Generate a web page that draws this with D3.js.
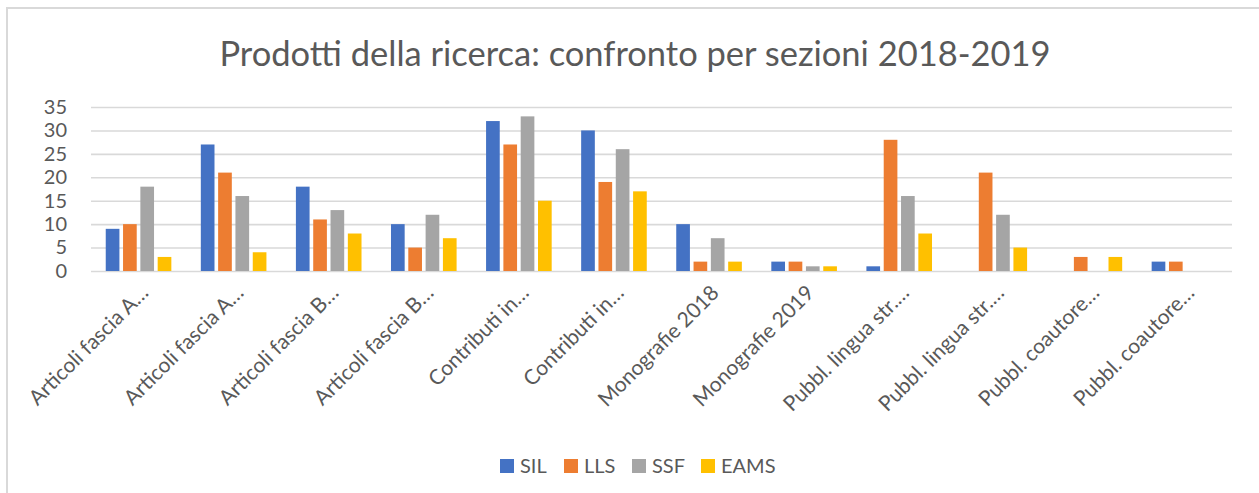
<!DOCTYPE html>
<html>
<head>
<meta charset="utf-8">
<script src="https://cdn.jsdelivr.net/npm/d3@7"></script>
<style>
  body { margin: 0; background: #fff; }
  svg { display: block; font-family: Lato, "Open Sans", sans-serif; }
</style>
</head>
<body>
<svg id="chart" width="1259" height="493"></svg>
<script>
// categories as they show up on the x axis (Excel truncated them)
let categories = [
  'Articoli fascia A…', 'Articoli fascia A…', 'Articoli fascia B…', 'Articoli fascia B…',
  'Contributi in…', 'Contributi in…', 'Monografie 2018', 'Monografie 2019',
  'Pubbl. lingua str.…', 'Pubbl. lingua str.…', 'Pubbl. coautore…', 'Pubbl. coautore…'
]
let seriesNames = ['SIL', 'LLS', 'SSF', 'EAMS']
let SIL  = [9, 27, 18, 10, 32, 30, 10, 2, 1, 0, 0, 2]
let LLS  = [10, 21, 11, 5, 27, 19, 2, 2, 28, 21, 3, 2]
let SSF  = [18, 16, 13, 12, 33, 26, 7, 1, 16, 12, 0, 0]
let EAMS = [3, 4, 8, 7, 15, 17, 2, 1, 8, 5, 3, 0]
let yTicks = [0, 5, 10, 15, 20, 25, 30, 35]
let colors = ['#4472C4', '#ED7D31', '#A5A5A5', '#FFC000']

let seriesValues = [SIL, LLS, SSF, EAMS]
let textColor = '#595959'

let svg = d3.select('#chart')

// chart border (runs off the right / bottom of the shot)
svg.append('rect')
  .attr('x', 7).attr('y', 8)
  .attr('width', 1300).attr('height', 600)
  .attr('fill', '#fff')
  .attr('stroke', '#d9d9d9')
  .attr('stroke-width', 2)

svg.append('text')
  .attr('x', 635).attr('y', 66)
  .attr('text-anchor', 'middle')
  .attr('fill', textColor)
  .style('font-size', '34.5px')
  .text('Prodotti della ricerca: confronto per sezioni 2018-2019')

let plotLeft = 91, plotRight = 1232, plotTop = 107, plotBottom = 271

let x0 = d3.scaleBand()
  .domain(d3.range(categories.length))
  .range([plotLeft, plotRight])
  .paddingInner(0.31)
  .paddingOuter(0.155)

let x1 = d3.scaleBand()
  .domain(d3.range(seriesNames.length))
  .range([0, x0.bandwidth()])
  .paddingInner(0.21)

let y = d3.scaleLinear().domain([0, 35]).range([plotBottom, plotTop])

// gridlines + y labels
let yAxis = svg.append('g')
  .attr('transform', `translate(${plotLeft},0)`)
  .call(d3.axisLeft(y).tickValues(yTicks).tickSize(-(plotRight - plotLeft)).tickPadding(24))
yAxis.select('.domain').remove()
yAxis.selectAll('line').attr('stroke', '#d9d9d9').attr('stroke-width', 1.6)
yAxis.selectAll('text')
  .attr('fill', textColor)
  .style('font-size', '20px')
  .style('font-family', 'Lato, sans-serif')

// bars
let groups = svg.append('g')
  .selectAll('g')
  .data(categories.map((c, i) => i))
  .enter()
  .append('g')
  .attr('transform', (i) => `translate(${x0(i)},0)`)

groups.selectAll('rect')
  .data((i) => seriesValues.map((s, k) => ({ k: k, v: s[i] })).filter((d) => d.v > 0))
  .enter()
  .append('rect')
  .attr('x', (d) => x1(d.k))
  .attr('width', x1.bandwidth())
  .attr('y', (d) => y(d.v))
  .attr('height', (d) => y(0) - y(d.v))
  .attr('fill', (d) => colors[d.k])

// x labels, rotated like Excel does it
let xAxis = svg.append('g')
  .attr('transform', `translate(0,${plotBottom})`)
  .call(d3.axisBottom(x0).tickSize(0).tickFormat((i) => categories[i]))
xAxis.select('.domain').remove()
xAxis.selectAll('text')
  .attr('fill', textColor)
  .style('font-size', '21px')
  .style('font-family', 'Lato, sans-serif')
  .attr('text-anchor', 'end')
  .attr('dy', '0.35em')
  .attr('transform', 'translate(6,18) rotate(-45)')
  .attr('y', 0)

// legend
let legendX = [500, 564, 632, 701]
let legend = svg.append('g')
  .selectAll('g')
  .data(seriesNames)
  .enter()
  .append('g')
  .attr('transform', (d, i) => `translate(${legendX[i]},459)`)
legend.append('rect')
  .attr('width', 14).attr('height', 14)
  .attr('fill', (d, i) => colors[i])
legend.append('text')
  .attr('x', 20).attr('y', 7)
  .attr('dy', '0.35em')
  .attr('fill', textColor)
  .style('font-size', '20px')
  .text((d) => d)
</script>
</body>
</html>
